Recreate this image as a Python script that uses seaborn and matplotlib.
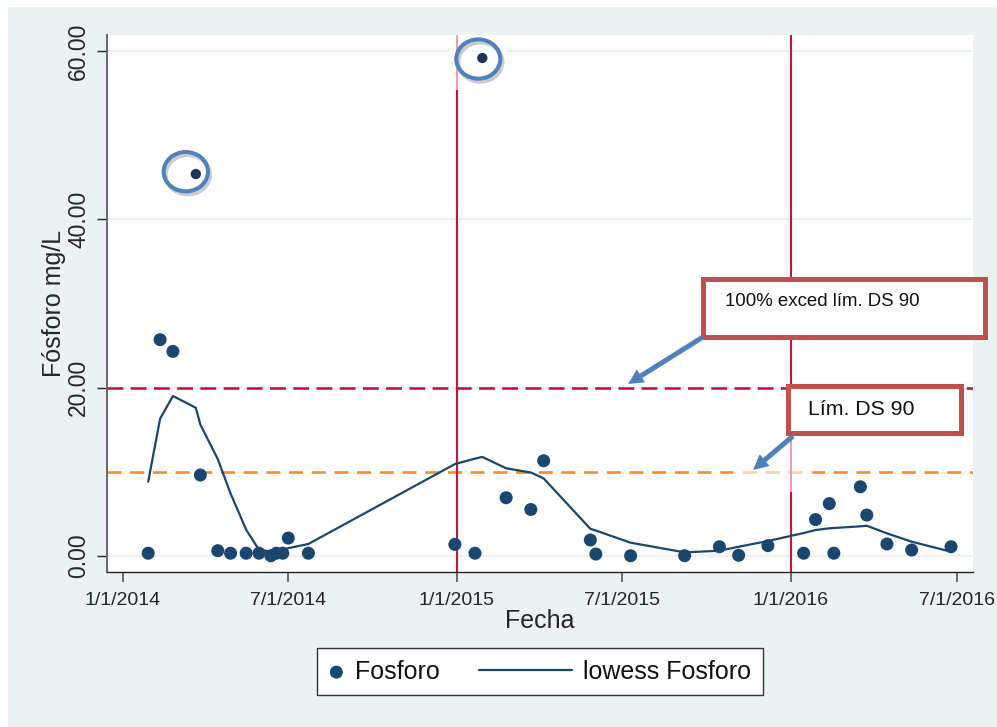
import matplotlib
matplotlib.use("Agg")
import numpy as np
import pandas as pd
import matplotlib.pyplot as plt
from matplotlib.legend_handler import HandlerLine2D
from matplotlib.patches import Rectangle, Ellipse, FancyArrowPatch
import seaborn as sns

# ---- data -------------------------------------------------------------
fechas = [
    "2014-01-29", "2014-02-11", "2014-02-25", "2014-03-22", "2014-03-27",
    "2014-04-15", "2014-04-29", "2014-05-16", "2014-05-30", "2014-06-12",
    "2014-06-18", "2014-06-25", "2014-07-01", "2014-07-23", "2014-12-30",
    "2015-01-21", "2015-01-29", "2015-02-24", "2015-03-23", "2015-04-06",
    "2015-05-27", "2015-06-02", "2015-07-10", "2015-09-07", "2015-10-15",
    "2015-11-05", "2015-12-07", "2016-01-15", "2016-01-28", "2016-02-12",
    "2016-02-17", "2016-03-17", "2016-03-24", "2016-04-15", "2016-05-12",
    "2016-06-24",
]
fosforo = [
    0.3, 25.7, 24.3, 45.4, 9.6,
    0.6, 0.3, 0.3, 0.3, 0.0,
    0.3, 0.3, 2.1, 0.3, 1.35,
    0.3, 59.2, 6.9, 5.5, 11.3,
    1.87, 0.2, 0.0, 0.0, 1.07,
    0.05, 1.2, 0.3, 4.3, 6.2,
    0.3, 8.2, 4.84, 1.4, 0.68,
    1.07,
]
lowess_fosforo = [
    8.8, 16.3, 19.0, 17.6, 15.6,
    11.5, 7.4, 3.1, 0.7, 0.5,
    0.6, 0.7, 0.9, 1.4, 10.9,
    11.55, 11.75, 10.4, 9.9, 9.2,
    3.2, 3.0, 1.55, 0.4, 0.6,
    1.07, 1.75, 2.7, 3.06, 3.26,
    3.3, 3.5, 3.57, 2.66, 1.67,
    0.48,
]
# samples highlighted with a circle on the chart
destacado = [f > 40 for f in fosforo]

lim_ds90 = 10.0
lim_100_exceso = 20.0
cortes_anuales = ["2015-01-01", "2016-01-01"]

x_ticks = ["2014-01-01", "2014-07-01", "2015-01-01", "2015-07-01", "2016-01-01", "2016-07-01"]
x_etiquetas = ["1/1/2014", "7/1/2014", "1/1/2015", "7/1/2015", "1/1/2016", "7/1/2016"]
y_ticks = [0, 20, 40, 60]
y_etiquetas = ["0.00", "20.00", "40.00", "60.00"]

texto_exceso = "100% exced lím. DS 90"
texto_limite = "Lím. DS 90"

df = pd.DataFrame({
    "Fecha": pd.to_datetime(fechas),
    "Fosforo": fosforo,
    "lowess": lowess_fosforo,
    "destacado": destacado,
})

# ---- style ------------------------------------------------------------
FONDO = "#EAF2F3"
NAVY = "#1A476F"
ROJO = "#C8143C"
NARANJA = "#FF8C1A"
AZUL_NOTA = "#4F81BD"
ROJO_CAJA = "#C0504D"

sns.set_style("white")
plt.rcParams["font.family"] = ["Liberation Sans", "DejaVu Sans"]
plt.rcParams["text.color"] = "#111111"

W, H = 997, 727
fig = plt.figure(figsize=(W / 100, H / 100), dpi=100, facecolor=FONDO)


def fpos(x, y):
    """pixel position (from top-left) -> figure fraction"""
    return (x / W, 1 - y / H)


# thin white margin on the left and top of the graph region
fig.add_artist(Rectangle((0, 0), 8 / W, 1, transform=fig.transFigure,
                         facecolor="white", edgecolor="none", zorder=-5))
fig.add_artist(Rectangle((0, 1 - 7 / H), 1, 7 / H, transform=fig.transFigure,
                         facecolor="white", edgecolor="none", zorder=-5))

ax = fig.add_axes([107 / W, 1 - 572.3 / H, 866 / W, 537 / H])
ax.set_facecolor("white")

# reference lines
ax.axhline(lim_100_exceso, color=ROJO, lw=1.9, dashes=(6.0, 2.8), zorder=1.5)
ax.axhline(lim_ds90, color=NARANJA, lw=1.9, dashes=(5.3, 3.3), zorder=1.5)
for d in cortes_anuales:
    ax.axvline(pd.Timestamp(d), color=ROJO, lw=1.5, zorder=1.6)

# faded patches under the annotation graphics
for (x0, y0, x1, y1) in [(450, 35, 507, 90), (733, 435, 813, 492)]:
    ax.add_patch(Rectangle(fpos(x0, y1), (x1 - x0) / W, (y1 - y0) / H,
                           transform=fig.transFigure, facecolor="white",
                           edgecolor="none", alpha=0.6, zorder=2.5, clip_on=False))

# measurements and lowess smooth
sns.scatterplot(data=df[~df["destacado"]], x="Fecha", y="Fosforo", color=NAVY,
                s=88, edgecolor="none", linewidth=0, label="Fosforo", zorder=3, ax=ax)
sns.scatterplot(data=df[df["destacado"]], x="Fecha", y="Fosforo", color="#1B3556",
                s=55, edgecolor="none", linewidth=0, legend=False, zorder=3, ax=ax)
sns.lineplot(data=df, x="Fecha", y="lowess", color=NAVY, lw=1.6, estimator=None,
             label="lowess Fosforo", zorder=4, ax=ax)
if ax.get_legend() is not None:
    ax.get_legend().remove()

# axes
ax.set_xlim(pd.Timestamp("2013-12-15"), pd.Timestamp("2016-07-18"))
ax.set_ylim(-1.97, 61.9)
ax.set_xticks(pd.to_datetime(x_ticks))
ax.set_xticklabels(x_etiquetas, fontsize=14)
ax.set_yticks(y_ticks)
ax.set_yticklabels(y_etiquetas, rotation=90, va="center", fontsize=16.5)
ax.yaxis.grid(True, color=FONDO, lw=1.5)
ax.xaxis.grid(False)
ax.set_axisbelow(True)
ax.tick_params(axis="y", length=7.2, width=1.0, color="#222222", pad=5, left=True)
ax.tick_params(axis="x", length=7.2, width=1.2, color="#555555", pad=7, bottom=True)
for s in ["top", "right"]:
    ax.spines[s].set_visible(False)
ax.spines["left"].set_color("#666666")
ax.spines["left"].set_linewidth(1.4)
ax.spines["bottom"].set_color("#222222")
ax.spines["bottom"].set_linewidth(1.0)
ax.set_xlabel("Fecha", fontsize=18, labelpad=0)
ax.set_ylabel("Fósforo mg/L", fontsize=18, labelpad=1)


# legend
class LineaLarga(HandlerLine2D):
    def __init__(self, extra, **kw):
        super().__init__(**kw)
        self.extra = extra

    def create_artists(self, legend, orig_handle, xdescent, ydescent, width,
                       height, fontsize, trans):
        return super().create_artists(legend, orig_handle, xdescent + self.extra,
                                      ydescent, width + self.extra, height,
                                      fontsize, trans)


handles, labels = ax.get_legend_handles_labels()
linea = [h for h, l in zip(handles, labels) if l == "lowess Fosforo"][0]
leg = fig.legend(handles, labels, loc="center", bbox_to_anchor=fpos(540, 671.7),
                 ncol=2, fontsize=18, frameon=True, fancybox=False,
                 edgecolor="#333333", framealpha=1, borderpad=0.46,
                 handlelength=0.6, handletextpad=0.45, columnspacing=4.68,
                 scatterpoints=1, handler_map={linea: LineaLarga(56)})
leg.get_frame().set_linewidth(1.0)

# circles around the extreme values
for (cx, cy, w, h) in [(185.8, 171.7, 44.3, 39.3), (478.3, 59.0, 44.0, 39.3)]:
    fig.add_artist(Ellipse(fpos(cx + 2, cy + 3), w / W, h / H, transform=fig.transFigure,
                           facecolor="none", edgecolor="#9A9A9A", lw=3.0,
                           alpha=0.5, zorder=6))
    fig.add_artist(Ellipse(fpos(cx, cy), w / W, h / H, transform=fig.transFigure,
                           facecolor="none", edgecolor=AZUL_NOTA, lw=2.9, zorder=7))

# annotation boxes
for (x0, y0, x1, y1) in [(702.5, 279.5, 984.5, 337.5), (787.5, 385.5, 960.5, 432.5)]:
    fig.add_artist(Rectangle(fpos(x0, y1), (x1 - x0) / W, (y1 - y0) / H,
                             transform=fig.transFigure, facecolor="white",
                             edgecolor=ROJO_CAJA, lw=3.6, zorder=8))
fig.text(*fpos(725, 301), texto_exceso, fontsize=13.4, ha="left", va="center",
         color="#111111", zorder=9)
fig.text(*fpos(808, 409), texto_limite, fontsize=15.3, ha="left", va="center",
         color="#111111", zorder=9)

# arrows
for (a, b) in [((703, 337), (628, 384)), ((793, 436), (753, 470))]:
    fig.add_artist(FancyArrowPatch(fpos(*a), fpos(*b), transform=fig.transFigure,
                                   arrowstyle="simple,head_length=11,head_width=11,tail_width=3.6",
                                   mutation_scale=1, shrinkA=0, shrinkB=0,
                                   facecolor=AZUL_NOTA, edgecolor="none", zorder=10))

fig.savefig("out.png", dpi=100, facecolor=FONDO)
